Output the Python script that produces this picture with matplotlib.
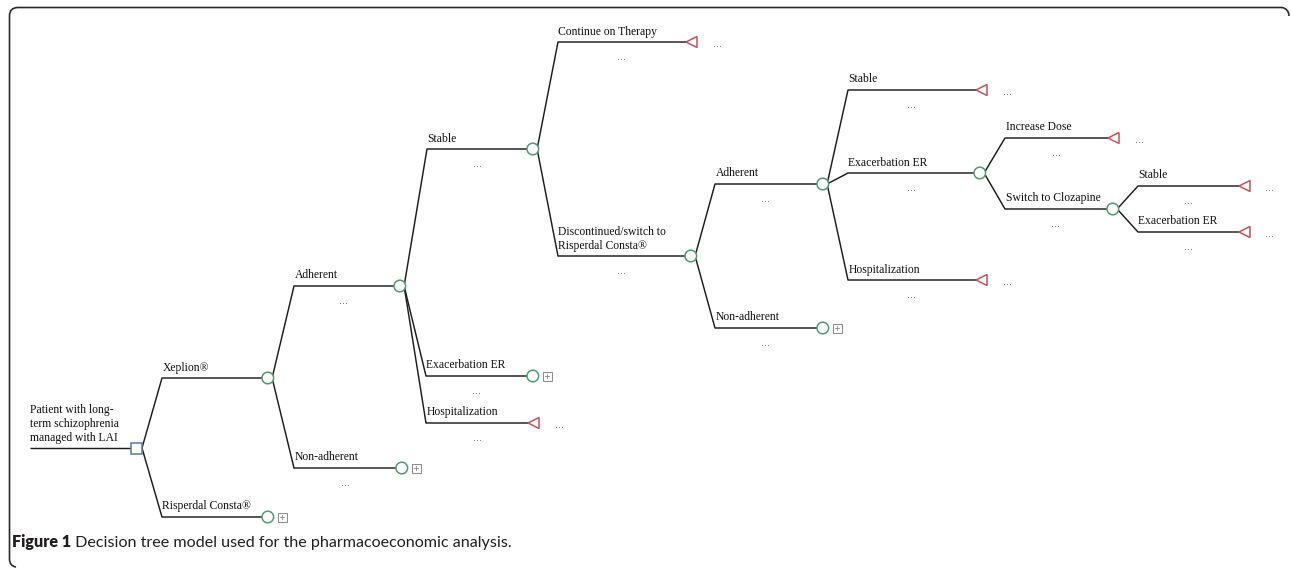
import matplotlib
matplotlib.use("Agg")
import matplotlib.pyplot as plt
from matplotlib.patches import Circle, Rectangle, Polygon, PathPatch
from matplotlib.path import Path

# ---------------- data: decision tree ----------------
labels = [
    "Patient with long-\nterm schizophrenia\nmanaged with LAI",
    "Xeplion®", "Risperdal Consta®",
    "Adherent", "Non-adherent",
    "Stable", "Exacerbation ER", "Hospitalization",
    "Continue on Therapy", "Discontinued/switch to\nRisperdal Consta®",
    "Adherent", "Non-adherent",
    "Stable", "Exacerbation ER", "Hospitalization",
    "Increase Dose", "Switch to Clozapine",
    "Stable", "Exacerbation ER",
]
parents = [-1, 0, 0, 1, 1, 3, 3, 3, 5, 5, 9, 9, 10, 10, 10, 13, 13, 16, 16]
kinds = ["decision", "chance", "collapsed", "chance", "collapsed",
         "chance", "collapsed", "terminal", "terminal", "chance",
         "chance", "collapsed", "terminal", "chance", "terminal",
         "terminal", "chance", "terminal", "terminal"]
show_dots = [False, False, False, True, True, True, True, True, True, True,
             True, True, True, True, True, True, True, True, True]

# layout (pixel coordinates of the original figure)
branch_x0 = [30, 162, 162, 294, 294, 427, 426, 426, 558, 558,
             715, 715, 848, 848, 848, 1005, 1005, 1138, 1138]
branch_x1 = [131, 262, 262, 394, 396, 527, 527, 528, 686, 685,
             817, 817, 976, 974, 976, 1108, 1107, 1239, 1239]
branch_y = [448, 378, 517, 286, 468, 149, 376, 423, 42, 256,
            184, 328, 90, 173, 280, 138, 209, 186, 232]

caption_bold = "Figure 1"
caption_rest = " Decision tree model used for the pharmacoeconomic analysis."

# ---------------- drawing ----------------
W, H = 1292, 568
fig = plt.figure(figsize=(W / 100, H / 100), dpi=100)
ax = fig.add_axes([0, 0, 1, 1])
ax.set_xlim(0, W)
ax.set_ylim(H, 0)
ax.axis("off")

LINE = "#1c1c1c"
GREEN = "#4e9c72"
RED = "#c9505e"
BLUE = "#5877aa"
GREY = "#8a8a8a"
R = 5.8
serif = ["Liberation Serif", "DejaVu Serif"]

def anchor(i):
    """point where children branches start"""
    k = kinds[i]
    x1, y = branch_x1[i], branch_y[i]
    if k == "decision":
        return x1 + 11, y
    return x1 + 2 * R - 1.5, y

for i, lab in enumerate(labels):
    x0, x1, y = branch_x0[i], branch_x1[i], branch_y[i]
    p = parents[i]
    xs, ys = [x0, x1], [y, y]
    if p >= 0:
        ax_, ay_ = anchor(p)
        xs = [ax_, x0, x1]
        ys = [ay_, y, y]
    ax.plot(xs, ys, color=LINE, lw=1.05, solid_capstyle="butt", zorder=2)

    # label
    ax.text(x0 + 0.5, y - 7.5, lab, fontsize=8.4, family=serif, color="#111111",
            ha="left", va="baseline", linespacing=1.17, zorder=3)
    if show_dots[i]:
        ax.text((x0 + x1) / 2, y + 15, "...", fontsize=7, color="#666666",
                ha="center", va="center", zorder=3)

    k = kinds[i]
    if k == "decision":
        ax.add_patch(Rectangle((x1, y - 5.5), 11, 11, fill=True, fc="white",
                               ec=BLUE, lw=1.1, zorder=4))
    elif k in ("chance", "collapsed"):
        ax.add_patch(Circle((x1 + R, y), R, fc="white", ec=GREEN, lw=1.1, zorder=4))
        if k == "collapsed":
            bx = x1 + 2 * R + 4
            ax.add_patch(Rectangle((bx, y - 4.5), 9, 9, fill=False, ec=GREY,
                                   lw=0.7, zorder=4))
            ax.plot([bx + 2.5, bx + 6.5], [y, y], color=GREY, lw=0.6, zorder=5)
            ax.plot([bx + 4.5, bx + 4.5], [y - 2, y + 2], color=GREY, lw=0.6, zorder=5)
    elif k == "terminal":
        ax.add_patch(Polygon([(x1, y), (x1 + 11, y - 5.5), (x1 + 11, y + 5.5)],
                             closed=True, fill=False, ec=RED, lw=1.1, zorder=4))
        ax.text(x1 + 31, y + 2, "...", fontsize=7, color="#666666",
                ha="center", va="center", zorder=3)

# frame with rounded corners (top and left sides visible)
verts = [(1289, 16), (1289, 9), (1282, 7.5), (1275, 7.5),
         (18, 7.5), (9.5, 7.5), (9.5, 16),
         (9.5, 559), (9.5, 566), (16, 567)]
codes = [Path.MOVETO, Path.CURVE3, Path.CURVE3, Path.LINETO,
         Path.LINETO, Path.CURVE3, Path.CURVE3,
         Path.LINETO, Path.CURVE3, Path.CURVE3]
ax.add_patch(PathPatch(Path(verts, codes), fill=False, ec="#2a2a2a", lw=1.2, zorder=1))

# caption
cap_font = ["Lato", "DejaVu Sans"]
t1 = ax.text(12, 547, caption_bold, fontsize=11.6, fontweight="heavy",
             family=cap_font, color="#231f20", ha="left", va="baseline")
fig.canvas.draw()
bb = t1.get_window_extent(renderer=fig.canvas.get_renderer())
x_data = ax.transData.inverted().transform((bb.x1, bb.y0))[0]
ax.text(x_data, 547, caption_rest, fontsize=11.6, family=cap_font,
        color="#231f20", ha="left", va="baseline")

fig.savefig("out.png", dpi=100)
